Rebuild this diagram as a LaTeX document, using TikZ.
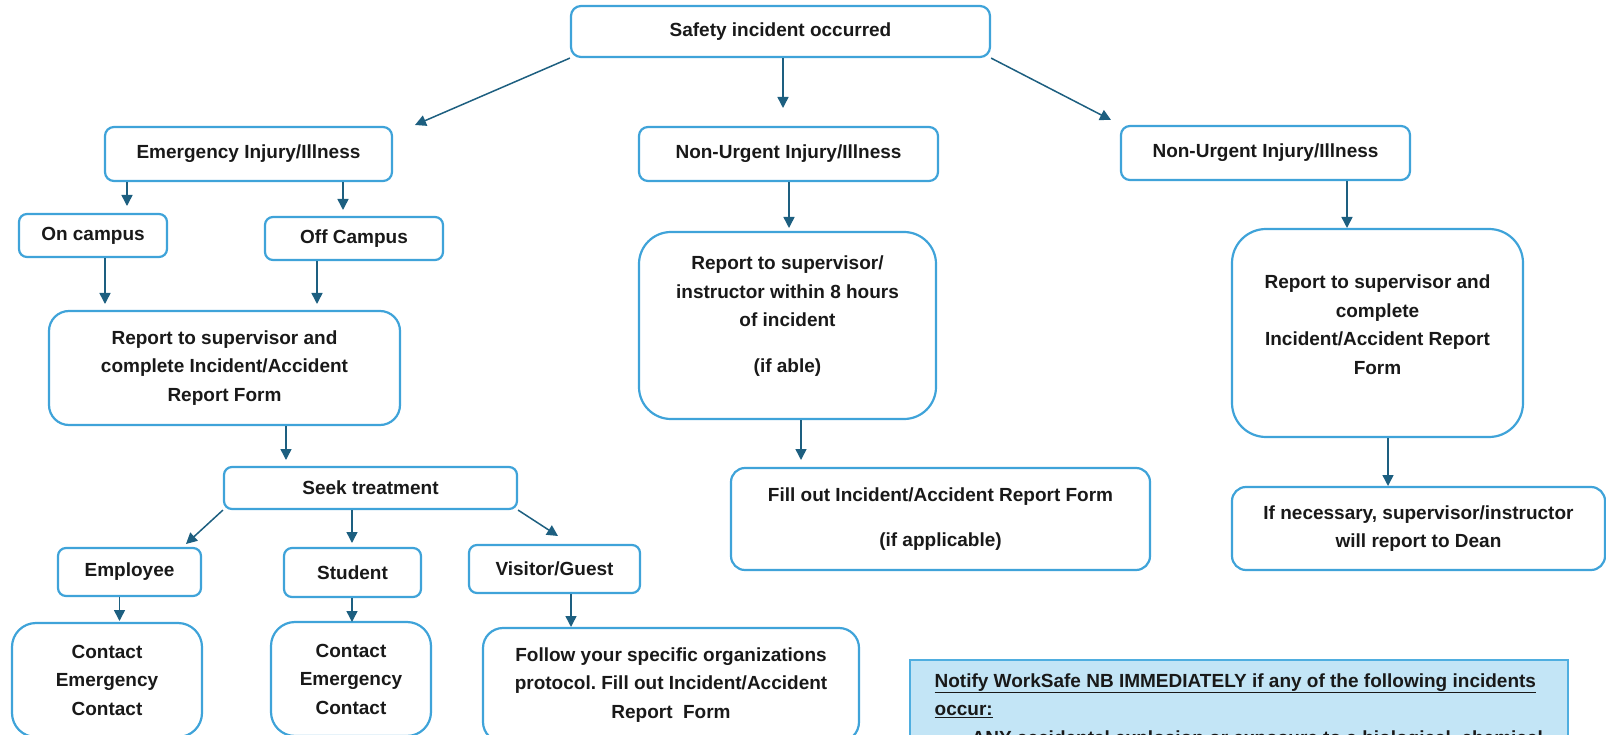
\documentclass[tikz,border=0pt]{standalone}
\usepackage{fontspec}
\setmainfont{Liberation Sans}
\usetikzlibrary{arrows.meta}
\definecolor{boxblue}{HTML}{3FA3D9}
\definecolor{arrowblue}{HTML}{1D5F80}
\definecolor{notefill}{HTML}{C3E5F6}
\definecolor{noteedge}{HTML}{4FAEE0}
\frenchspacing

\begin{document}
\begin{tikzpicture}[x=1pt,y=-1pt,
    box/.style={draw=boxblue, line width=2.2pt, rounded corners=#1, align=center,
      inner sep=0pt, text=black!90, font=\bfseries\fontsize{19}{28.5}\selectfont},
    box/.default=9pt,
    arr/.style={draw=arrowblue, line width=1.5pt, -{Triangle[length=11pt,width=11pt]}}]
    \useasboundingbox (0,0) rectangle (1606,735);
    \clip (0,0) rectangle (1606,735);

    % Top level
    \node[box=10pt, minimum width=419pt, minimum height=51pt] (safety) at (780.5,31.5) {Safety incident occurred};
    \node[box, minimum width=287pt, minimum height=54pt] (emerg) at (248.5,154) {Emergency Injury/Illness};
    \node[box, minimum width=299pt, minimum height=54pt] (nonurgA) at (788.5,154) {Non-Urgent Injury/Illness};
    \node[box, minimum width=289pt, minimum height=54pt] (nonurgB) at (1265.5,153) {Non-Urgent Injury/Illness};

    % Emergency branch
    \node[box=8pt, minimum width=148pt, minimum height=43pt] (oncampus) at (93,235.5) {On campus};
    \node[box=8pt, minimum width=178pt, minimum height=43pt] (offcampus) at (354,238.5) {Off Campus};
    \node[box=20pt, minimum width=351pt, minimum height=114pt] (reportA) at (224.5,368)
      {Report to supervisor and\\complete Incident/Accident\\Report Form};
    \node[box=8pt, minimum width=293pt, minimum height=42pt] (seek) at (370.5,488) {Seek treatment};
    \node[box=8pt, minimum width=143pt, minimum height=48pt] (employee) at (129.5,572) {Employee};
    \node[box=8pt, minimum width=137pt, minimum height=49pt] (student) at (352.5,572.5) {Student};
    \node[box=8pt, minimum width=171pt, minimum height=48pt] (visitor) at (554.5,569) {Visitor/Guest};
    \node[box=24pt, minimum width=190pt, minimum height=114pt] (contactA) at (107,680) {Contact\\Emergency\\Contact};
    \node[box=24pt, minimum width=160pt, minimum height=114pt] (contactB) at (351,679) {Contact\\Emergency\\Contact};
    \node[box=20pt, minimum width=376pt, minimum height=114pt] (follow) at (671,685)
      {Follow your specific organizations\\protocol. Fill out Incident/Accident\\Report\ \ Form};

    % Non-urgent branches
    \node[box=32pt, minimum width=297pt, minimum height=187pt] (reportB) at (787.5,325.5)
      {Report to supervisor/\\instructor within 8 hours\\of incident\\[17.5pt](if able)\\[-6pt]\mbox{}};
    \node[box=14pt, minimum width=419pt, minimum height=102pt] (fillout) at (940.5,519)
      {Fill out Incident/Accident Report Form\\[16.5pt](if applicable)};
    \node[box=34pt, minimum width=291pt, minimum height=208pt] (reportC) at (1377.5,333)
      {Report to supervisor and\\complete\\Incident/Accident Report\\Form\\[-12pt]\mbox{}};
    \node[box=14pt, minimum width=373pt, minimum height=83pt] (dean) at (1418.5,528.5)
      {If necessary, supervisor/instructor\\will report to Dean};

    % WorkSafe note
    \node[draw=noteedge, fill=notefill, line width=1.5pt, anchor=north west, align=left,
      minimum width=658pt, minimum height=102pt, inner xsep=17pt, inner ysep=4pt,
      text=black!90, font=\bfseries\fontsize{19}{28.5}\selectfont] (notify) at (909,659)
      {\underline{Notify WorkSafe NB IMMEDIATELY if any of the following incidents}\\
       \underline{occur:}\\
       \hspace*{37pt}ANY accidental explosion or exposure to a biological, chemical};

    % Arrow tips
    \coordinate (tipE) at (415,125);
    \coordinate (tipN) at (783,108);
    \coordinate (tipR) at (1111,120);
    \coordinate (tipOn) at (127,206);
    \coordinate (tipOff) at (343,210);
    \coordinate (tipRA1) at (105,304);
    \coordinate (tipRA2) at (317,304);
    \coordinate (tipSeek) at (286,460);
    \coordinate (tipEmp) at (186,544);
    \coordinate (tipStu) at (352,543);
    \coordinate (tipVis) at (558,536);
    \coordinate (tipCA) at (119.5,621);
    \coordinate (tipCB) at (352,622);
    \coordinate (tipFol) at (571,627);
    \coordinate (tipRB) at (789,228);
    \coordinate (tipFill) at (801,460);
    \coordinate (tipRC) at (1347,228);
    \coordinate (tipDean) at (1388,486);

    % Slanted arrows
    \draw[arr] (safety.south west) -- (tipE);
    \draw[arr] (safety.south east) -- (tipR);
    \draw[arr] (seek.south west) -- (tipEmp);
    \draw[arr] (seek.south east) -- (tipVis);

    % Straight down arrows
    \foreach \from/\to in {safety/tipN, emerg/tipOn, emerg/tipOff, oncampus/tipRA1,
        offcampus/tipRA2, reportA/tipSeek, seek/tipStu, employee/tipCA, student/tipCB,
        visitor/tipFol, nonurgA/tipRB, reportB/tipFill, nonurgB/tipRC, reportC/tipDean} {
      \draw[arr] (\from.south -| \to) -- (\to);
    }
\end{tikzpicture}
\end{document}
